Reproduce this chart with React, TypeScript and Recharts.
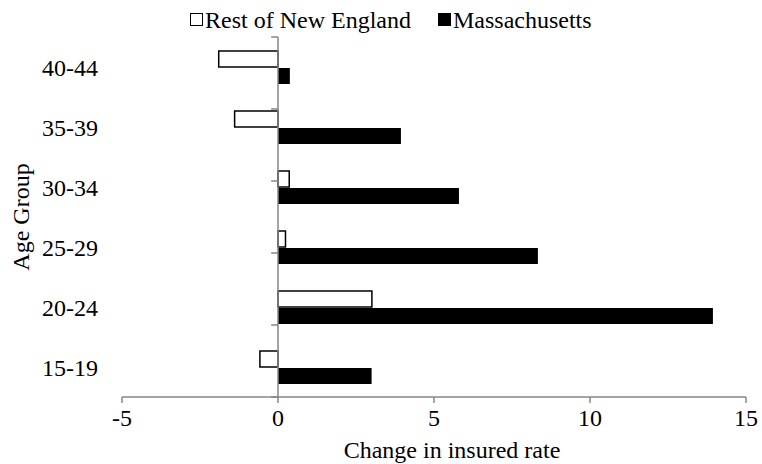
import React from "react";
import { BarChart, Bar, XAxis, YAxis, ReferenceLine, Label } from "recharts";

const AGE_GROUPS = ["15-19", "20-24", "25-29", "30-34", "35-39", "40-44"];
const REST_OF_NE = [-0.58, 3.01, 0.24, 0.36, -1.39, -1.9];
const MASSACHUSETTS = [3.0, 13.94, 8.33, 5.8, 3.94, 0.38];
const X_TICKS = [-5, 0, 5, 10, 15];
// category boundaries, drawn as short ticks on the zero line
const BOUNDARIES = [0, 1, 2, 3, 4, 5, 6];

const SERIES = [
  { key: "rest", name: "Rest of New England", fill: "#fff" },
  { key: "mass", name: "Massachusetts", fill: "#000" },
];

const FONT = "'Liberation Serif', 'Times New Roman', serif";
const AXIS_GREY = "#868686";

const data = AGE_GROUPS.map((g, i) => ({
  group: g,
  rest: REST_OF_NE[i],
  mass: MASSACHUSETTS[i],
}));

const TICK_STYLE = { fill: "#000", fontSize: 24, fontFamily: FONT } as const;

function LegendView() {
  return (
    <div
      style={{
        position: "absolute",
        left: 190,
        top: 4,
        fontFamily: FONT,
        fontSize: 24,
        color: "#000",
        lineHeight: "28px",
        whiteSpace: "nowrap",
      }}
    >
      {SERIES.map((s) => (
        <span
          key={s.key}
          style={{ display: "inline-flex", alignItems: "center", marginRight: 27 }}
        >
          <span
            style={{
              display: "inline-block",
              width: 13,
              height: 13,
              boxSizing: "border-box",
              background: s.fill,
              border: "1.5px solid #000",
              marginRight: 2,
            }}
          />
          {s.name}
        </span>
      ))}
    </div>
  );
}

export default function App() {
  return (
    <div
      style={{
        position: "absolute",
        left: 0,
        top: 0,
        width: 762,
        height: 464,
        background: "#fff",
      }}
    >
      <BarChart
        width={762}
        height={464}
        data={data}
        layout="vertical"
        margin={{ top: 37, right: 16, bottom: 6, left: 0 }}
        barSize={16}
        barGap={1}
      >
        <XAxis
          type="number"
          domain={[-5, 15]}
          ticks={X_TICKS}
          tick={TICK_STYLE}
          height={61}
          tickSize={6}
          tickMargin={6}
          axisLine={{ stroke: AXIS_GREY, strokeWidth: 1.5 }}
          tickLine={{ stroke: AXIS_GREY, strokeWidth: 1.5 }}
          interval={0}
        >
          <Label
            value="Change in insured rate"
            position="insideBottom"
            offset={0}
            dx={18}
            style={{ fill: "#000", fontSize: 24, fontFamily: FONT }}
          />
        </XAxis>
        <YAxis
          type="category"
          dataKey="group"
          reversed
          width={122}
          tick={TICK_STYLE}
          tickSize={0}
          tickMargin={24}
          axisLine={false}
          tickLine={false}
        >
          <Label
            value="Age Group"
            angle={-90}
            position="insideLeft"
            offset={20}
            style={{
              fill: "#000",
              fontSize: 24,
              fontFamily: FONT,
              textAnchor: "middle",
            }}
          />
        </YAxis>
        <YAxis yAxisId="b" type="number" domain={[0, 6]} hide />
        <ReferenceLine x={0} stroke={AXIS_GREY} strokeWidth={1.5} />
        {BOUNDARIES.map((b) => (
          <ReferenceLine
            key={b}
            yAxisId="b"
            segment={[
              { x: -0.22, y: b },
              { x: 0, y: b },
            ]}
            stroke={AXIS_GREY}
            strokeWidth={1.5}
          />
        ))}
        <Bar
          dataKey="rest"
          name="Rest of New England"
          fill="#fff"
          stroke="#000"
          strokeWidth={1.5}
          isAnimationActive={false}
        />
        <Bar
          dataKey="mass"
          name="Massachusetts"
          fill="#000"
          isAnimationActive={false}
        />
      </BarChart>
      <LegendView />
    </div>
  );
}
